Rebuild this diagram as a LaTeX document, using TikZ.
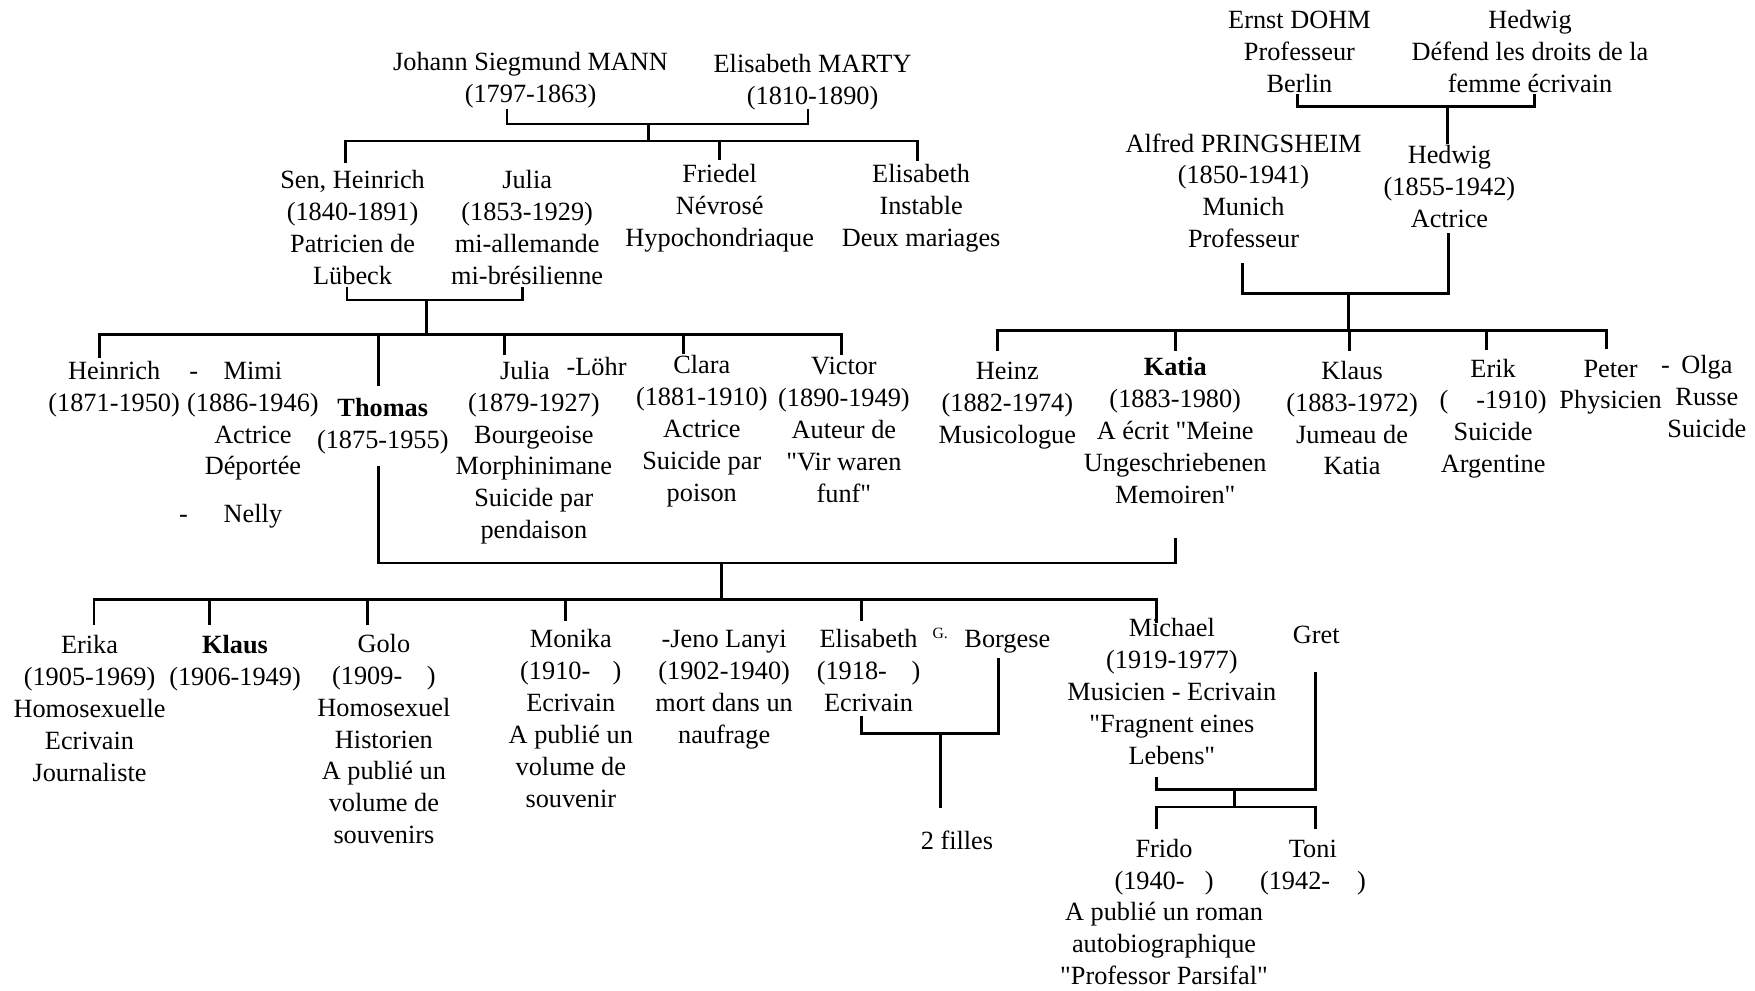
\documentclass[tikz,border=0pt]{standalone}
\usepackage{fontspec}
\setmainfont{Liberation Serif}[Ligatures=TeXOff]
\newcommand\fs{\fontsize{23.5}{28.5}\selectfont}
\begin{document}
\begin{tikzpicture}[x=1pt,y=-1pt,
  t/.style={align=center, inner sep=0pt, anchor=north, yshift=12.3pt, font=\fs},
  ln/.style={line width=2.6pt},
  thinln/.style={line width=1.8pt}]
\useasboundingbox (0,0) rectangle (1568,885);
% ---- top generation
\node[t] (js) at (474,55) {\strut Johann Siegmund MANN\\(1797-1863)};
\node[t] (em) at (726,57) {\strut Elisabeth MARTY\\(1810-1890)};
\node[t] (sh) at (315,161) {\strut Sen, Heinrich\\(1840-1891)\\Patricien de\\Lübeck};
\node[t] (ju1) at (471,161) {\strut Julia\\(1853-1929)\\mi-allemande\\mi-brésilienne};
\node[t] (fr) at (643,155) {\strut Friedel\\Névrosé\\Hypochondriaque};
\node[t] (el1) at (823,155) {\strut Elisabeth\\Instable\\Deux mariages};
\node[t] (ed) at (1161,18) {\strut Ernst DOHM\\Professeur\\Berlin};
\node[t] (hd1) at (1367,18) {\strut Hedwig\\Défend les droits de la\\femme écrivain};
\node[t] (ap) at (1111,128) {\strut Alfred PRINGSHEIM\\(1850-1941)\\Munich\\Professeur};
\node[t] (hd2) at (1295,138) {\strut Hedwig\\(1855-1942)\\Actrice};
% ---- second generation
\node[t] (he) at (102,331) {\strut Heinrich\\(1871-1950)};
\node[t] (d1) at (173,331) {\strut -};
\node[t] (mi) at (226,331) {\strut Mimi\\(1886-1946)\\Actrice\\Déportée};
\node[t] (d2) at (164,459) {\strut -};
\node[t] (ne) at (226,459) {\strut Nelly};
\node[t] (th) at (342,364) {\strut\textbf{Thomas}\\(1875-1955)};
\node[t] (ju2) at (477,331) {\strut Julia\kern16pt\\(1879-1927)\\Bourgeoise\\Morphinimane\\Suicide par\\pendaison};
\node[t] (lo) at (533,328) {\strut -Löhr};
\node[t] (cl) at (627,326) {\strut Clara\\(1881-1910)\\Actrice\\Suicide par\\poison};
\node[t] (vi) at (754,327) {\strut Victor\\(1890-1949)\\Auteur de\\"Vir waren\\funf"};
\node[t] (hz) at (900,331) {\strut Heinz\\(1882-1974)\\Musicologue};
\node[t] (ka) at (1050,328) {\strut\textbf{Katia}\\(1883-1980)\\A écrit "Meine\\Ungeschriebenen\\Memoiren"};
\node[t] (kl) at (1208,331) {\strut Klaus\\(1883-1972)\\Jumeau de\\Katia};
\node[t] (er) at (1334,329) {\strut Erik\\(\hspace{25pt}-1910)\\Suicide\\Argentine};
\node[t] (pe) at (1439,329) {\strut Peter\\Physicien};
\node[t] (d3) at (1488,326) {\strut -};
\node[t] (ol) at (1525,326) {\strut Olga\\Russe\\Suicide};
% ---- third generation
\node[t] (ek) at (80,576) {\strut Erika\\(1905-1969)\\Homosexuelle\\Ecrivain\\Journaliste};
\node[t] (kl2) at (210,576) {\strut\textbf{Klaus}\\(1906-1949)};
\node[t] (go) at (343,575) {\strut Golo\\(1909-\hspace{22pt})\\Homosexuel\\Historien\\A publié un\\volume de\\souvenirs};
\node[t] (mo) at (510,571) {\strut Monika\\(1910-\hspace{20pt})\\Ecrivain\\A publié un\\volume de\\souvenir};
\node[t] (jl) at (647,571) {\strut -Jeno Lanyi\\(1902-1940)\\mort dans un\\naufrage};
\node[t] (el2) at (776,571) {\strut Elisabeth\\(1918-\hspace{22pt})\\Ecrivain};
\node[font=\fontsize{14}{16}\selectfont, inner sep=0pt] (gg) at (840,566) {G.};
\node[t] (bo) at (900,571) {\strut Borgese};
\node[t] (fi) at (855,751) {\strut 2 filles};
\node[t] (mc) at (1047,561) {\strut Michael\\(1919-1977)\\Musicien - Ecrivain\\"Fragnent eines\\Lebens"};
\node[t] (gr) at (1176,567) {\strut Gret};
\node[t] (fd) at (1040,758) {\strut Frido\\(1940-\hspace{18pt})\\A publié un roman\\autobiographique\\"Professor Parsifal"};
\node[t] (to) at (1173,758) {\strut Toni\\(1942-\hspace{24pt})};
% ---- connectors: Mann - Marty
\coordinate (mmL) at (453,97); \coordinate (mmR) at (722,97); \coordinate (mmM) at (579,111);
\draw[thinln] (mmL) |- (mmM) -| (mmR);
\coordinate (b1) at (579,126);
\draw[ln] (mmM) -- (b1);
\coordinate (shT) at (309,146); \coordinate (elT) at (820,144); \coordinate (frT) at (643,143);
\draw[ln] (shT) |- (b1) -| (elT);
\draw[ln] (b1 -| frT) -- (frT);
% Heinrich - Julia
\coordinate (shB) at (310,256); \coordinate (juB) at (467,256); \coordinate (hjM) at (381,268);
\draw[ln] (shB) |- (hjM) -| (juB);
\coordinate (b2) at (381,299);
\draw[ln] (hjM) -- (b2);
\coordinate (heT) at (89,320); \coordinate (viT) at (752,317); \coordinate (thT) at (338,345);
\coordinate (ju2T) at (451,317); \coordinate (clT) at (611,316);
\draw[ln] (heT) |- (b2) -| (viT);
\draw[ln] (b2 -| thT) -- (thT);
\draw[ln] (b2 -| ju2T) -- (ju2T);
\draw[ln] (b2 -| clT) -- (clT);
% Dohm - Hedwig
\coordinate (edB) at (1159,84); \coordinate (hd1B) at (1371,84); \coordinate (dhM) at (1293,95);
\coordinate (hd2T) at (1293,129);
\draw[ln] (edB) |- (dhM) -| (hd1B);
\draw[ln] (dhM) -- (hd2T);
% Pringsheim - Hedwig
\coordinate (apB) at (1110,235); \coordinate (hd2B) at (1294,208); \coordinate (phM) at (1205,262);
\coordinate (b5) at (1205,295);
\draw[ln] (apB) |- (phM) -| (hd2B);
\draw[ln] (phM) -- (b5);
\coordinate (hzT) at (891,314); \coordinate (peT) at (1435,312); \coordinate (kaT) at (1050,314);
\coordinate (klT) at (1206,314); \coordinate (erT) at (1328,313);
\draw[ln] (hzT) |- (b5) -| (peT);
\draw[ln] (b5 -| kaT) -- (kaT);
\draw[ln] (b5 -| klT) -- (klT);
\draw[ln] (b5 -| erT) -- (erT);
% Thomas - Katia
\coordinate (thB) at (338,416); \coordinate (kaB) at (1050,481); \coordinate (tkM) at (645,503);
\draw[ln] (thB) |- (tkM) -| (kaB);
\coordinate (b3) at (645,536);
\draw[ln] (tkM) -- (b3);
\coordinate (ekT) at (84,558); \coordinate (mcT) at (1033,557);
\coordinate (kl2T) at (187,558); \coordinate (goT) at (328,558); \coordinate (moT) at (505,555);
\coordinate (el2T) at (770,555);
\draw[ln] (ekT) |- (b3) -| (mcT);
\draw[ln] (b3 -| kl2T) -- (kl2T);
\draw[ln] (b3 -| goT) -- (goT);
\draw[ln] (b3 -| moT) -- (moT);
\draw[ln] (b3 -| el2T) -- (el2T);
% Elisabeth - Borgese
\coordinate (el2B) at (770,640); \coordinate (boB) at (892,588); \coordinate (ebM) at (840,655);
\coordinate (fiT) at (840,722);
\draw[ln] (el2B) |- (ebM) -| (boB);
\draw[ln] (ebM) -- (fiT);
% Michael - Gret
\coordinate (mcB) at (1033,694); \coordinate (grB) at (1175,600); \coordinate (mgM) at (1103,705);
\coordinate (b4) at (1103,721); \coordinate (fdT) at (1033,741); \coordinate (toT) at (1175,741);
\draw[ln] (mcB) |- (mgM) -| (grB);
\draw[ln] (mgM) -- (b4);
\draw[ln] (fdT) |- (b4) -| (toT);
\end{tikzpicture}
\end{document}
